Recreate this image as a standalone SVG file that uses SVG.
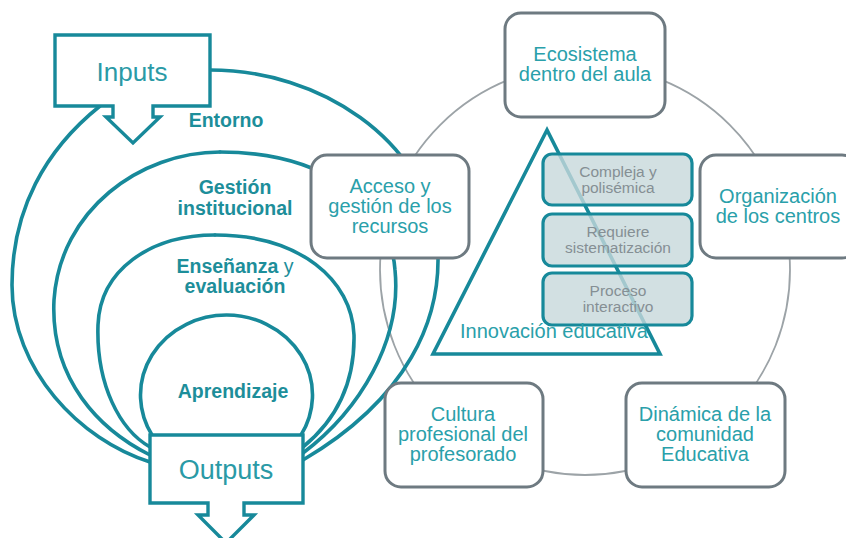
<svg xmlns="http://www.w3.org/2000/svg" width="846" height="538" viewBox="0 0 846 538">
<style>
.arc{fill:none;stroke:#17899a;stroke-width:3.6;stroke-linecap:round}
.io{fill:#fff;stroke:#17899a;stroke-width:3.4;stroke-linejoin:miter}
.iot{font-family:"Liberation Sans",Arial,sans-serif;fill:#2a9aa6;text-anchor:middle}
.lbl{font-family:"Liberation Sans",Arial,sans-serif;font-weight:bold;font-size:19.5px;fill:#1d8e9a;text-anchor:middle}
.box{fill:#fff;stroke:#6e7a81;stroke-width:3}
.bt{font-family:"Liberation Sans",Arial,sans-serif;font-size:20px;fill:#2aa0aa;text-anchor:middle}
.sb{fill:#c7d8db;fill-opacity:0.8;stroke:#17899a;stroke-width:3.2}
.st{font-family:"Liberation Sans",Arial,sans-serif;font-size:15.5px;fill:#858f94;text-anchor:middle}
.con{fill:none;stroke:#9ca3a7;stroke-width:1.8}
</style>
<rect width="846" height="538" fill="#fff"/>
<g id="connectors">
<circle class="con" cx="585" cy="270" r="205"/>
</g>
<g id="layers">
<path class="arc" d="M100,106 C45,150 12,210 12,285 C12,370 80,440 150,462"/>
<path class="arc" d="M210,70 C320,70 425,140 437,240 C445,320 405,400 303,460"/>
<path class="arc" d="M220,152 C140,152 60,210 54,300 C50,380 100,430 150,455"/>
<path class="arc" d="M220,152 C320,152 390,200 395,270 C402,340 360,410 303,453"/>
<path class="arc" d="M215,235 C150,235 100,270 98,325 C96,385 120,430 150,447"/>
<path class="arc" d="M215,235 C300,235 352,280 354,335 C355,390 330,425 303,447"/>
<path class="arc" d="M152,435 A86,80 0 1 1 301,435"/>
</g>
<g id="inputs">
<path class="io" d="M55,35 H210 V106 H153 V117 H160 L133,143 L106,117 H113 V106 H55 Z"/>
<text class="iot" x="132" y="81" font-size="26">Inputs</text>
</g>
<g id="outputs">
<path class="io" d="M150,435 H303 V503 H244 V515 H254 L226,543 L198,515 H208 V503 H150 Z"/>
<text class="iot" x="226" y="479" font-size="27">Outputs</text>
</g>
<g id="entorno"><text class="lbl" x="226" y="127">Entorno</text></g>
<g id="gestion"><text class="lbl" x="235" y="194">Gestión</text><text class="lbl" x="235" y="215">institucional</text></g>
<g id="ensenanza"><text class="lbl" x="235" y="273">Enseñanza<tspan font-weight="normal"> y</tspan></text><text class="lbl" x="235" y="293">evaluación</text></g>
<g id="aprendizaje"><text class="lbl" x="233" y="398">Aprendizaje</text></g>
<g id="innovacion">
<polygon points="547,130 433,354 660,354" fill="none" stroke="#17899a" stroke-width="3.6" stroke-linejoin="miter"/>
</g>
<g id="compleja">
<rect class="sb" x="543" y="154" width="149" height="51" rx="9"/>
<text class="st" x="618" y="177">Compleja  y</text><text class="st" x="618" y="193">polisémica</text>
</g>
<g id="requiere">
<rect class="sb" x="543" y="214" width="149" height="52" rx="9"/>
<text class="st" x="618" y="237">Requiere</text><text class="st" x="618" y="253">sistematización</text>
</g>
<g id="proceso">
<rect class="sb" x="543" y="273" width="149" height="52" rx="9"/>
<text class="st" x="618" y="296">Proceso</text><text class="st" x="618" y="312">interactivo</text>
</g>
<g id="innovacion-label">
<text class="bt" x="554" y="338">Innovación educativa</text>
</g>
<g id="ecosistema">
<rect class="box" x="505" y="13" width="160" height="104" rx="16"/>
<text class="bt" x="585" y="61">Ecosistema</text><text class="bt" x="585" y="81">dentro del aula</text>
</g>
<g id="organizacion">
<rect class="box" x="700" y="155" width="158" height="103" rx="16"/>
<text class="bt" x="778" y="203">Organización</text><text class="bt" x="778" y="223">de los centros</text>
</g>
<g id="acceso">
<rect class="box" x="311" y="155" width="158" height="103" rx="16"/>
<text class="bt" x="390" y="193">Acceso y</text><text class="bt" x="390" y="213">gestión de los</text><text class="bt" x="390" y="233">recursos</text>
</g>
<g id="cultura">
<rect class="box" x="385" y="383" width="158" height="104" rx="16"/>
<text class="bt" x="463" y="421">Cultura</text><text class="bt" x="463" y="441">profesional del</text><text class="bt" x="463" y="461">profesorado</text>
</g>
<g id="dinamica">
<rect class="box" x="626" y="383" width="159" height="104" rx="16"/>
<text class="bt" x="705" y="421">Dinámica de la</text><text class="bt" x="705" y="441">comunidad</text><text class="bt" x="705" y="461">Educativa</text>
</g>
</svg>
